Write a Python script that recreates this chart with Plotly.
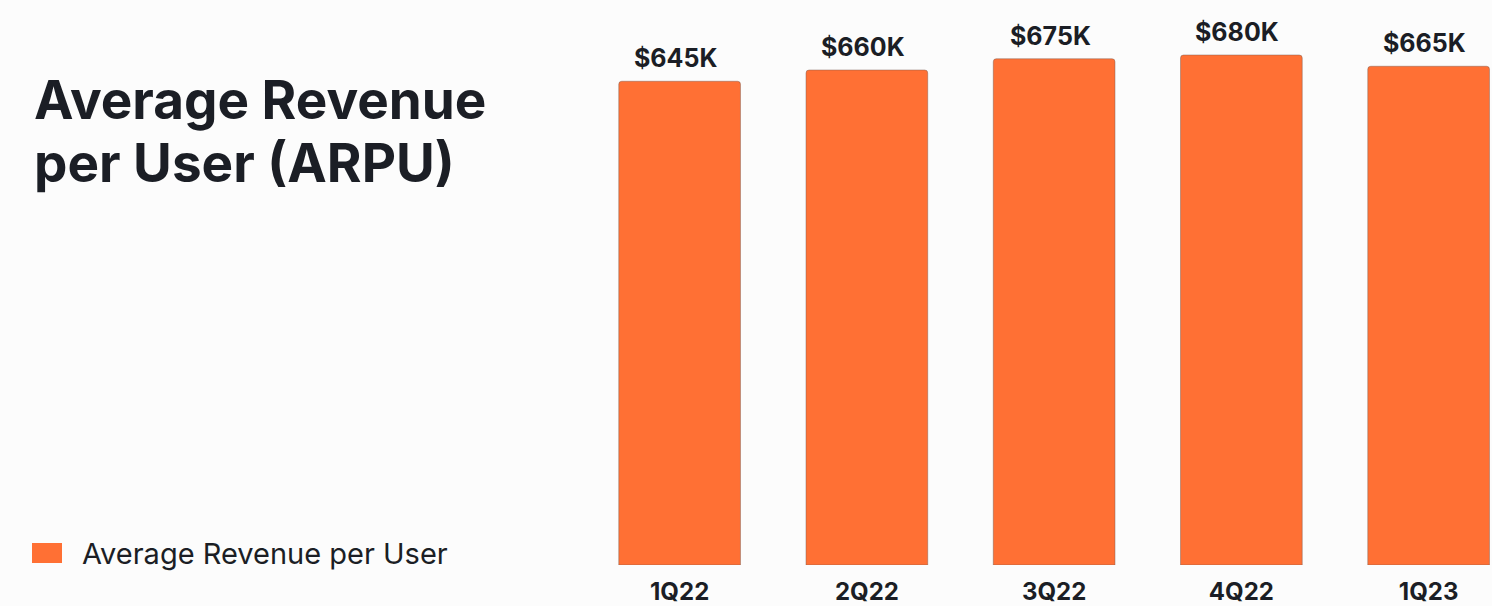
import plotly.graph_objects as go

categories = ["1Q22", "2Q22", "3Q22", "4Q22", "1Q23"]
arpu_k = [645, 660, 675, 680, 665]
labels = ["$645K", "$660K", "$675K", "$680K", "$665K"]
series_name = "Average Revenue per User"
title_lines = ["Average Revenue", "per User (ARPU)"]

BAR = "#FF7034"
TXT = "#1B1E25"
BG = "#FCFCFC"
W, H = 1492, 606
ML, MB = 586, 41
PW, PH = W - ML, H - MB


def px_x(x):
    return (x - ML) / PW


def px_y(y):
    return (PH - y) / PH


fig = go.Figure()
fig.add_trace(go.Bar(
    x=list(range(len(categories))), y=arpu_k, name=series_name,
    width=0.65,
    marker=dict(color=BAR, line=dict(color="rgba(120,90,80,0.45)", width=1), cornerradius=3),
    showlegend=False, hoverinfo="skip",
))
for i, (v, t) in enumerate(zip(arpu_k, labels)):
    fig.add_annotation(x=i, y=v, text=t, showarrow=False, yanchor="bottom", yshift=6, xshift=-4,
                       font=dict(family="Inter", size=25, color=TXT, weight=700))

for k, line in enumerate(title_lines):
    fig.add_annotation(xref="paper", yref="paper", x=px_x(32), y=px_y(100 + 63 * k),
                       xanchor="left", yanchor="middle", showarrow=False, text=line,
                       font=dict(family="Inter", size=53, color=TXT, weight=700))

fig.add_shape(type="rect", xref="paper", yref="paper",
              x0=px_x(32), x1=px_x(62), y0=px_y(563), y1=px_y(543),
              fillcolor=BAR, line=dict(width=0))
fig.add_annotation(xref="paper", yref="paper", x=px_x(80), y=px_y(553),
                   xanchor="left", yanchor="middle", showarrow=False, text=series_name,
                   font=dict(family="Inter", size=29, color=TXT))

fig.update_layout(
    width=W, height=H,
    margin=dict(l=ML, r=0, t=0, b=MB),
    paper_bgcolor=BG, plot_bgcolor=BG,
    xaxis=dict(range=[-0.5, -0.5 + PW / 187.25], tickmode="array",
               tickvals=list(range(len(categories))), ticktext=categories,
               showgrid=False, zeroline=False, showline=False, ticks="",
               ticklabelstandoff=10,
               tickfont=dict(family="Inter", size=24, color=TXT, weight=700)),
    yaxis=dict(range=[0, PH / 0.75], visible=False),
)
fig.write_html("out.html")
